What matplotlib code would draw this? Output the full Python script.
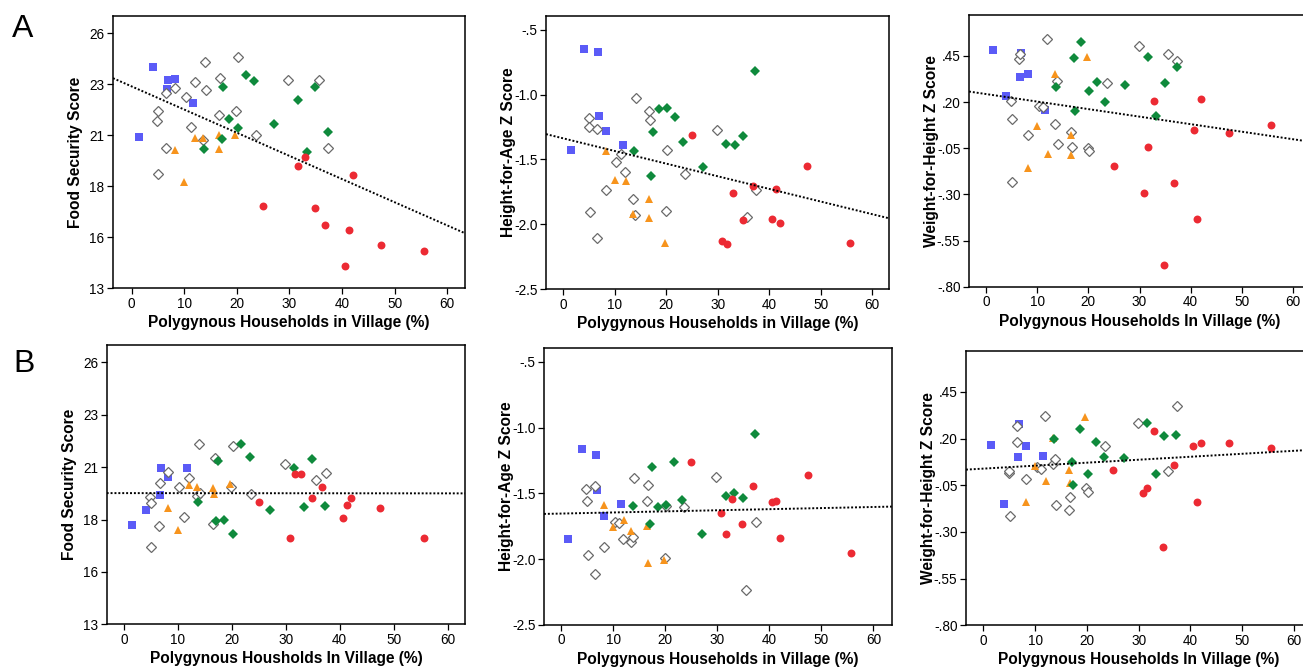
import numpy as np
import matplotlib
matplotlib.use("Agg")
import matplotlib.pyplot as plt

plt.rcParams['font.family'] = ['Liberation Sans', 'DejaVu Sans']

nan = np.nan

# x = percent of polygynous households in each village, by village group
blue_x = [1.4, 4.0, 6.7, 6.9, 8.2, 11.6]
grey_x = [4.9, 5.0, 5.1, 6.5, 6.6, 8.2, 10.3, 11.2, 12.0, 13.5,
          13.9, 14.1, 16.6, 16.8, 19.9, 20.2, 23.6, 29.8, 35.6, 37.4]
orange_x = [8.2, 10.0, 12.1, 13.5, 16.6, 16.7, 19.7]
green_x = [13.75, 17.1, 17.4, 18.6, 20.2, 21.7, 23.3, 27.1, 31.6, 33.3, 34.9, 37.3]
red_x = [25.0, 30.8, 31.7, 32.9, 34.8, 36.8, 40.6, 41.3, 42.1, 47.4, 55.6]

# Row A (unadjusted)
food_a = {
    'blue': [20.72, 24.25, 23.13, 23.60, 23.65, 22.45],
    'grey': [21.50, 22.01, 18.80, 22.96, 20.12, 23.21, 22.75, 21.23, 23.50, 20.56,
             24.52, 23.08, 21.84, 23.72, 22.04, 24.76, 20.78, 23.59, 23.59, 20.12],
    'orange': [20.02, 18.40, 20.65, 20.63, 20.78, 20.07, 20.80],
    'green': [20.09, 20.61, 23.26, 21.60, 21.16, 23.84, 23.55, 21.38, 22.58, 19.92, 23.26, 20.95],
    'red': [17.20, nan, 19.20, 19.70, 17.10, 16.23, 14.12, 15.96, 18.76, 15.18, 14.90],
}
hfa_a = {
    'blue': [-1.425, -0.649, -0.670, -1.166, -1.284, -1.392],
    'grey': [-1.184, -1.251, -1.909, -2.104, -1.269, -1.739, -1.523, -1.461, -1.600, -1.806,
             -1.929, -1.027, -1.127, -1.194, -1.898, -1.425, -1.611, -1.271, -1.942, -1.734],
    'orange': [-1.433, -1.662, -1.665, -1.924, -1.803, -1.952, -2.143],
    'green': [-1.436, -1.631, -1.287, -1.114, -1.107, -1.176, -1.366, -1.562, -1.379, -1.392, -1.317, -0.819],
    'red': [-1.315, -2.127, -2.156, -1.762, -1.970, -1.703, -1.960, -1.731, -1.994, -1.554, -2.145],
}
wfh_a = {
    'blue': [0.484, 0.231, 0.338, 0.468, 0.351, 0.157],
    'grey': [0.208, 0.107, -0.231, 0.432, 0.459, 0.020, 0.177, 0.172, 0.540, 0.081,
             0.315, -0.029, 0.036, -0.041, -0.049, -0.063, 0.302, 0.502, 0.459, 0.421],
    'orange': [-0.159, 0.071, -0.079, 0.354, 0.024, -0.088, 0.446],
    'green': [0.280, 0.437, 0.150, 0.524, 0.260, 0.309, 0.203, 0.293, 0.446, 0.125, 0.305, 0.390],
    'red': [-0.146, -0.291, -0.041, 0.206, -0.684, -0.238, 0.049, -0.431, 0.215, 0.035, 0.076],
}

# Row B (adjusted)
food_b = {
    'blue': [17.92, 18.68, 19.41, 20.75, 20.30, 20.77],
    'grey': [19.33, 19.04, 16.84, 17.90, 20.00, 20.57, 19.82, 18.33, 20.24, 19.38,
             21.96, 19.52, 17.98, 21.25, 19.81, 21.86, 19.47, 20.93, 20.17, 20.50],
    'orange': [18.75, 17.70, 19.89, 19.81, 19.76, 19.46, 19.97],
    'green': [19.06, 18.15, 21.10, 18.17, 17.47, 21.93, 21.30, 18.66, 20.77, 18.83, 21.18, 18.86],
    'red': [19.08, 17.30, 20.44, 20.47, 19.29, 19.79, 18.28, 18.91, 19.28, 18.75, 17.30],
}
hfa_b = {
    'blue': [-1.848, -1.165, -1.208, -1.477, -1.675, -1.581],
    'grey': [-1.470, -1.558, -1.970, -2.117, -1.442, -1.906, -1.718, -1.728, -1.845, -1.871,
             -1.830, -1.381, -1.561, -1.434, -1.992, -1.596, -1.601, -1.376, -2.239, -1.718],
    'orange': [-1.589, -1.759, -1.703, -1.789, -1.749, -2.033, -2.008],
    'green': [-1.594, -1.734, -1.297, -1.601, -1.589, -1.261, -1.551, -1.812, -1.520, -1.495, -1.533, -1.046],
    'red': [-1.261, -1.650, -1.810, -1.543, -1.736, -1.444, -1.563, -1.558, -1.843, -1.363, -1.957],
}
wfh_b = {
    'blue': [0.164, -0.150, 0.100, 0.279, 0.162, 0.109],
    'grey': [0.018, 0.027, -0.213, 0.182, 0.266, -0.018, 0.046, 0.037, 0.320, 0.066,
             0.091, -0.155, -0.180, -0.111, -0.064, -0.086, 0.161, 0.286, 0.027, 0.373],
    'orange': [-0.139, 0.052, -0.029, 0.202, 0.032, -0.039, 0.314],
    'green': [0.200, 0.075, -0.048, 0.250, 0.012, 0.180, 0.104, 0.095, 0.286, 0.012, 0.216, 0.220],
    'red': [0.030, -0.091, -0.063, 0.241, -0.382, 0.061, 0.163, -0.139, 0.179, 0.179, 0.152],
}

# fitted trend lines (intercept at x=0, slope)
trend_a = [(23.28, -0.1181), (-1.338, -0.00975), (0.2435, -0.00408)]
trend_b = [(19.51, -0.0002), (-1.654, 0.000834), (0.0393, 0.00159)]

food_ticks = [13, 15.6, 18.2, 20.8, 23.4, 26]
food_labels = ['13', '16', '18', '21', '23', '26']
hfa_ticks = [-2.5, -2.0, -1.5, -1.0, -0.5]
hfa_labels = ['-2.5', '-2.0', '-1.5', '-1.0', '-.5']
wfh_ticks = [-0.80, -0.55, -0.30, -0.05, 0.20, 0.45]
wfh_labels = ['-.80', '-.55', '-.30', '-.05', '.20', '.45']
x_ticks = [0, 10, 20, 30, 40, 50, 60]

groups = {
    'blue': (blue_x, dict(marker='s', color='#5b5bf7', ms=5.6, mew=0)),
    'grey': (grey_x, dict(marker='D', mfc='white', mec='#6a6a6a', ms=4.9, mew=0.9)),
    'orange': (orange_x, dict(marker='^', color='#f7941d', ms=5.9, mew=0)),
    'green': (green_x, dict(marker='D', color='#0f8a3c', ms=5.2, mew=0)),
    'red': (red_x, dict(marker='o', color='#ec2a33', ms=5.7, mew=0)),
}

W, H = 1303, 671
fig = plt.figure(figsize=(W / 100, H / 100), dpi=100)

# pixel boxes: left, right, top, bottom
panels = [
    (113, 465, 16, 288, (-3.55, 63.4), (13, 26.87), food_a, food_ticks, food_labels,
     'Food Security Score', 'Polygynous Households in Village (%)', trend_a[0]),
    (546, 889.3, 16, 289, (-3.36, 63.3), (-2.5, -0.394), hfa_a, hfa_ticks, hfa_labels,
     'Height-for-Age Z Score', 'Polygynous Households in Village (%)', trend_a[1]),
    (969, 1311, 15.3, 286.7, (-3.32, 63.5), (-0.80, 0.67), wfh_a, wfh_ticks, wfh_labels,
     'Weight-for-Height Z Score', 'Polygynous Households In Village (%)', trend_a[2]),
    (106.7, 465.3, 345, 624.3, (-3.2, 63.3), (13, 26.86), food_b, food_ticks, food_labels,
     'Food Security Score', 'Polygynous Housholds In Village (%)', trend_b[0]),
    (544, 891.7, 348.3, 624.7, (-3.26, 63.5), (-2.5, -0.396), hfa_b, hfa_ticks, hfa_labels,
     'Height-for-Age Z Score', 'Polygynous Households in Village (%)', trend_b[1]),
    (966, 1311, 350.7, 625.3, (-3.34, 63.3), (-0.80, 0.671), wfh_b, wfh_ticks, wfh_labels,
     'Weight-for-Height Z Score', 'Polygynous Households In Village (%)', trend_b[2]),
]

for (l, r, t, b, xl, yl, vals, yt, ytl, ylab, xlab, trend) in panels:
    ax = fig.add_axes([l / W, 1 - b / H, (r - l) / W, (b - t) / H])
    for name, (xs, style) in groups.items():
        ax.plot(xs, vals[name], linestyle='none', zorder=3, **style)
    b0, m = trend
    ax.axline((0, b0), slope=m, color='black', lw=1.4, linestyle=(0, (1, 1)), zorder=4)
    ax.set_xlim(*xl)
    ax.set_ylim(*yl)
    ax.set_xticks(x_ticks)
    ax.set_yticks(yt)
    ax.set_yticklabels(ytl)
    ax.tick_params(direction='out', length=4, width=0.9, labelsize=9.8, pad=2.2, colors='black')
    for s in ax.spines.values():
        s.set_linewidth(1.1)
    ax.set_ylabel(ylab, fontsize=11.2, fontweight='bold')
    ax.set_xlabel(xlab, fontsize=11.2, fontweight='bold')
    ax.yaxis.set_label_coords(-30 / (r - l), 0.5)
    ax.xaxis.set_label_coords(0.5, -27 / (b - t))

fig.text(12 / W, 1 - 37 / H, 'A', fontsize=23, va='baseline')
fig.text(13 / W, 1 - 372 / H, 'B', fontsize=23, va='baseline')

fig.savefig('out.png', dpi=100)
